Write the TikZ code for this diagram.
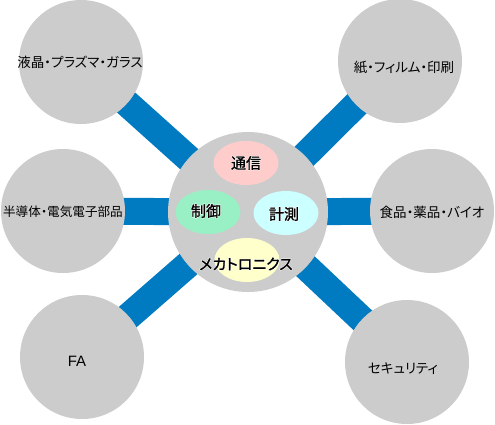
\documentclass[tikz,border=0pt]{standalone}
\usepackage{fontspec}
\newfontfamily\jp[RawFeature=+palt]{Noto Sans CJK JP}
\newfontfamily\jpb[FakeBold=1.2,RawFeature=+palt]{Noto Sans CJK JP}
\newfontfamily\jph[FakeBold=8,RawFeature=+palt]{Noto Sans CJK JP}
\newfontfamily\lat{Liberation Sans}
\definecolor{circgray}{RGB}{204,204,204}
\definecolor{barblue}{RGB}{0,122,192}
\definecolor{pinkfill}{RGB}{255,204,204}
\definecolor{mintfill}{RGB}{153,240,196}
\definecolor{cyanfill}{RGB}{204,255,255}
\definecolor{yellowfill}{RGB}{255,255,204}
\tikzset{
  outer/.style={circle, fill=circgray, minimum size=124pt, inner sep=0pt},
  hub/.style={circle, fill=circgray, minimum size=160pt, inner sep=0pt},
  field/.style={ellipse, minimum width=65pt, minimum height=44pt, inner sep=0pt},
  bar/.style={barblue, line width=27pt},
  lab/.style={font=\jp\fontsize{13.5}{15}\selectfont, text=black, inner sep=0pt},
  inlab/.style={font=\jpb\fontsize{15}{17}\selectfont, text=black, inner sep=0pt},
  halo/.style={font=\jph\fontsize{15}{17}\selectfont, text=white, inner sep=0pt},
}
\usetikzlibrary{shapes.geometric}
\begin{document}
\begin{tikzpicture}[x=1pt,y=-1pt]
\useasboundingbox (0,0) rectangle (495,424);
% coordinates of circle centres
\coordinate (c0) at (248,212);
\coordinate (c1) at (81,62);
\coordinate (c2) at (400,61);
\coordinate (c3) at (63,211);
\coordinate (c4) at (432,211);
\coordinate (c5) at (82,357);
\coordinate (c6) at (407,362);
% bars
\draw[bar] (c1) -- (c0);
\draw[bar] (c2) -- (c0);
\draw[bar] (c3) -- (c0);
\draw[bar] (c4) -- (c0);
\draw[bar] (c5) -- (c0);
\draw[bar] (c6) -- (c0);
% circles
\node[hub] (hub) at (c0) {};
\node[outer] (o1) at (c1) {};
\node[outer] (o2) at (c2) {};
\node[outer] (o3) at (c3) {};
\node[outer] (o4) at (c4) {};
\node[outer] (o5) at (c5) {};
\node[outer] (o6) at (c6) {};
% outer labels
\node[lab] (t1) at (80,62) {液晶・プラズマ・ガラス};
\node[lab] (t2) at (404,67) {紙・フィルム・印刷};
\node[lab, font=\jp\fontsize{12.6}{15}\selectfont] (t3) at (63,212) {半導体・電気電子部品};
\node[lab] (t4) at (432,212) {食品・薬品・バイオ};
\node[lab, font=\lat\fontsize{15}{17}\selectfont] (t5) at (77,361) {FA};
\node[lab] (t6) at (403,369) {セキュリティ};
% inner fields
\node[field, fill=pinkfill] (e1) at (246,163) {};
\node[field, fill=mintfill] (e2) at (208,212) {};
\node[field, fill=cyanfill] (e3) at (286,213) {};
\node[field, fill=yellowfill] (e4) at (247,260) {};
\node[halo] (h1) at (246,163) {通信};
\node[halo] (h2) at (206,211) {制御};
\node[halo] (h3) at (284,214) {計測};
\node[halo] (h4) at (246,264) {メカトロニクス};
\node[inlab] (f1) at (246,163) {通信};
\node[inlab] (f2) at (206,211) {制御};
\node[inlab] (f3) at (284,214) {計測};
\node[inlab] (f4) at (246,264) {メカトロニクス};
\end{tikzpicture}
\end{document}
